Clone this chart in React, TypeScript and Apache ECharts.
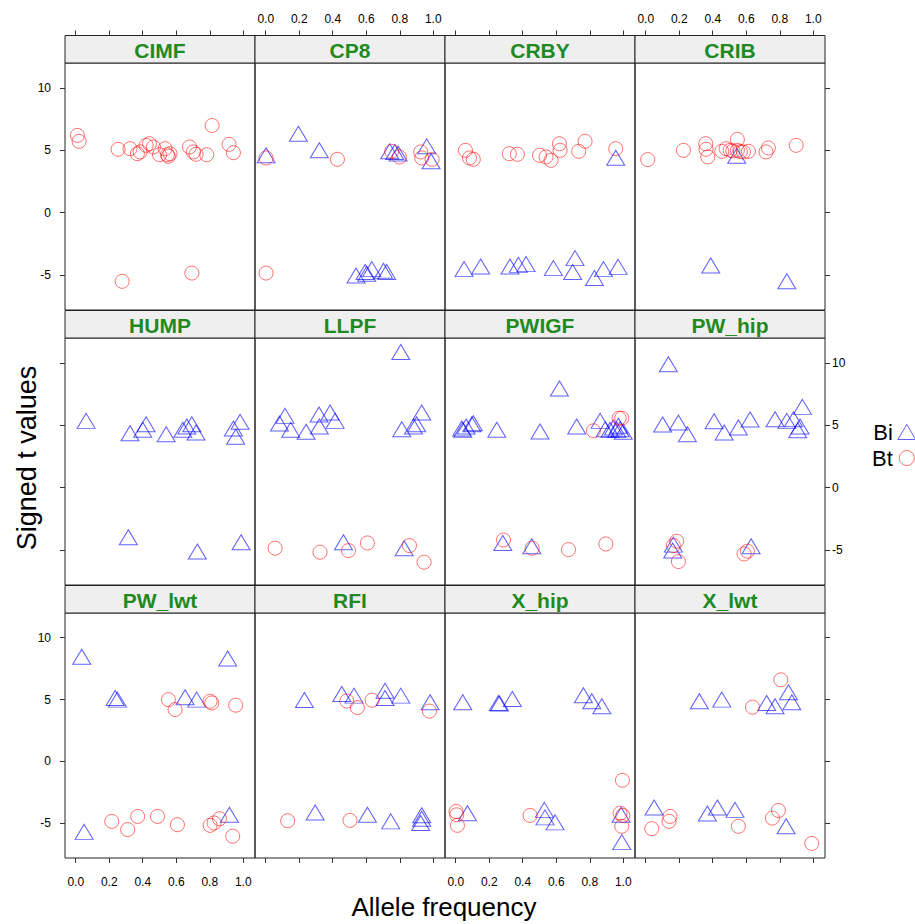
import React, { useEffect, useRef } from 'react';
import * as echarts from 'echarts';

const panelNames = ['CIMF', 'CP8', 'CRBY', 'CRIB', 'HUMP', 'LLPF', 'PWIGF', 'PW_hip', 'PW_lwt', 'RFI', 'X_hip', 'X_lwt'];
const xTicks = [0, 0.2, 0.4, 0.6, 0.8, 1.0];
const yTicks = [-5, 0, 5, 10];
const groups = ['Bi', 'Bt'];

const cimfBi: number[][] = [];
const cimfBt = [[0.01, 6.2], [0.02, 5.72], [0.253, 5.08], [0.324, 5.13], [0.368, 4.73], [0.384, 4.87], [0.42, 5.4], [0.44, 5.53], [0.464, 5.27], [0.5, 4.65], [0.533, 5.13], [0.547, 4.65], [0.563, 4.73], [0.553, 4.52], [0.679, 5.27], [0.702, 4.87], [0.718, 4.68], [0.782, 4.65], [0.814, 6.99], [0.915, 5.48], [0.941, 4.81], [0.277, -5.5], [0.693, -4.84]];

const cp8Bi = [[0.002, 4.6], [0.195, 6.33], [0.32, 5.0], [0.74, 4.92], [0.77, 4.87], [0.79, 4.75], [0.961, 5.32], [0.987, 4.12], [0.539, -5.03], [0.593, -4.76], [0.603, -4.89], [0.633, -4.52], [0.703, -4.65], [0.722, -4.76]];
const cp8Bt = [[0.002, 4.39], [0.428, 4.28], [0.752, 4.92], [0.798, 4.47], [0.925, 4.87], [0.931, 4.39], [0.993, 4.28], [0.002, -4.84]];

const crbyBi = [[0.955, 4.41], [0.05, -4.52], [0.149, -4.31], [0.324, -4.31], [0.374, -4.18], [0.42, -4.12], [0.583, -4.44], [0.712, -3.64], [0.698, -4.76], [0.828, -5.24], [0.882, -4.52], [0.969, -4.34]];
const crbyBt = [[0.058, 5.0], [0.082, 4.39], [0.105, 4.28], [0.32, 4.73], [0.368, 4.68], [0.5, 4.6], [0.539, 4.47], [0.569, 4.2], [0.619, 5.53], [0.623, 5.0], [0.734, 4.92], [0.772, 5.72], [0.955, 5.13]];

const cribBi = [[0.543, 4.57], [0.388, -4.23], [0.842, -5.5]];
const cribBt = [[0.012, 4.26], [0.225, 5.0], [0.358, 5.53], [0.36, 5.08], [0.37, 4.47], [0.454, 4.92], [0.48, 5.13], [0.504, 5.0], [0.52, 4.95], [0.547, 5.88], [0.547, 5.0], [0.565, 4.9], [0.583, 4.87], [0.613, 4.92], [0.718, 4.87], [0.732, 5.19], [0.898, 5.4]];

const humpBi = [[0.062, 5.36], [0.324, 4.37], [0.4, 4.64], [0.42, 5.09], [0.54, 4.29], [0.639, 4.64], [0.663, 4.91], [0.693, 5.09], [0.718, 4.43], [0.941, 4.75], [0.981, 5.28], [0.955, 4.08], [0.314, -3.97], [0.726, -5.12], [0.987, -4.37]];
const humpBt: number[][] = [];

const llpfBi = [[0.806, 10.88], [0.082, 5.15], [0.115, 5.76], [0.149, 4.64], [0.241, 4.48], [0.318, 5.87], [0.32, 4.91], [0.384, 6.03], [0.414, 5.36], [0.812, 4.69], [0.882, 4.91], [0.901, 5.09], [0.931, 6.03], [0.464, -4.37], [0.826, -4.85]];
const llpfBt = [[0.056, -4.85], [0.324, -5.17], [0.494, -5.04], [0.607, -4.43], [0.858, -4.64], [0.945, -5.97]];

const pwigfBi = [[0.619, 7.95], [0.036, 4.75], [0.042, 4.64], [0.062, 4.91], [0.096, 5.09], [0.105, 5.17], [0.245, 4.64], [0.503, 4.51], [0.722, 4.91], [0.862, 5.36], [0.892, 4.69], [0.921, 4.64], [0.941, 4.83], [0.961, 4.64], [0.971, 4.96], [0.981, 4.69], [1.0, 4.48], [0.281, -4.43], [0.454, -4.69]];
const pwigfBt = [[0.822, 4.56], [0.975, 5.57], [0.991, 5.57], [0.285, -4.19], [0.456, -4.85], [0.673, -4.96], [0.896, -4.51]];

const pwHipBi = [[0.135, 9.89], [0.101, 5.07], [0.195, 5.23], [0.249, 4.29], [0.408, 5.33], [0.468, 4.43], [0.553, 4.83], [0.623, 5.47], [0.772, 5.49], [0.842, 5.36], [0.882, 5.49], [0.935, 6.48], [0.921, 4.91], [0.907, 4.61], [0.165, -4.56], [0.161, -5.04], [0.629, -4.69]];
const pwHipBt = [[0.185, -4.29], [0.165, -4.64], [0.195, -5.92], [0.587, -5.31], [0.607, -5.09]];

const pwLwtBi = [[0.036, 8.46], [0.907, 8.32], [0.235, 5.13], [0.249, 5.0], [0.653, 5.19], [0.722, 5.0], [0.917, -4.31], [0.05, -5.69]];
const pwLwtBt = [[0.553, 5.0], [0.593, 4.2], [0.802, 4.87], [0.812, 4.73], [0.955, 4.55], [0.215, -4.84], [0.31, -5.5], [0.37, -4.44], [0.488, -4.44], [0.607, -5.11], [0.802, -5.16], [0.826, -4.97], [0.858, -4.63], [0.937, -6.04]];

const rfiBi = [[0.231, 4.97], [0.454, 5.45], [0.527, 5.32], [0.712, 5.72], [0.712, 5.13], [0.806, 5.32], [0.981, 4.79], [0.295, -4.12], [0.607, -4.31], [0.746, -4.84], [0.931, -4.34], [0.931, -4.63], [0.925, -4.97]];
const rfiBt = [[0.484, 4.89], [0.547, 4.36], [0.635, 4.95], [0.977, 4.07], [0.131, -4.79], [0.503, -4.76]];

const xHipBi = [[0.042, 4.79], [0.255, 4.73], [0.261, 4.68], [0.338, 5.05], [0.762, 5.35], [0.812, 4.87], [0.872, 4.47], [0.07, -4.18], [0.529, -3.91], [0.533, -4.52], [0.593, -4.92], [0.987, -4.31], [0.991, -6.52]];
const xHipBt = [[0.002, -4.04], [0.006, -4.31], [0.01, -5.16], [0.444, -4.36], [0.995, -1.52], [0.981, -4.18], [0.997, -4.36], [0.991, -5.24]];

const xLwtBi = [[0.32, 4.87], [0.454, 5.0], [0.722, 4.73], [0.772, 4.47], [0.852, 5.59], [0.872, 4.79], [0.05, -3.72], [0.368, -4.2], [0.428, -3.72], [0.533, -3.91], [0.838, -5.24]];
const xLwtBt = [[0.806, 6.6], [0.637, 4.39], [0.036, -5.43], [0.139, -4.84], [0.145, -4.44], [0.553, -5.24], [0.756, -4.57], [0.792, -3.96], [0.991, -6.62]];

const biData = [cimfBi, cp8Bi, crbyBi, cribBi, humpBi, llpfBi, pwigfBi, pwHipBi, pwLwtBi, rfiBi, xHipBi, xLwtBi];
const btData = [cimfBt, cp8Bt, crbyBt, cribBt, humpBt, llpfBt, pwigfBt, pwHipBt, pwLwtBt, rfiBt, xHipBt, xLwtBt];

const FONT = '"Liberation Sans", Arial, Helvetica, sans-serif';
const BLUE = 'rgba(0,0,255,0.78)';
const RED = 'rgba(255,0,0,0.7)';

export default function App() {
  const ref = useRef<HTMLDivElement>(null);
  useEffect(() => {
    if (!ref.current) return;
    const chart = echarts.init(ref.current, undefined, { renderer: 'svg' });
    const W = 190;
    const STRIP = 27.5;
    const stripTops = [35.5, 310.5, 585.5];
    const plotH = [247, 247, 245];
    const grids: any[] = [];
    const xAxes: any[] = [];
    const yAxes: any[] = [];
    const series: any[] = [];
    const graphics: any[] = [];
    panelNames.forEach((name, i) => {
      const r = Math.floor(i / 4);
      const c = i % 4;
      const left = 65 + W * c;
      const top = stripTops[r] + STRIP;
      grids.push({ left, top, width: W, height: plotH[r], show: true, borderColor: '#222', borderWidth: 1, backgroundColor: 'transparent' });
      const xLabelShow = (r === 0 && c % 2 === 1) || (r === 2 && c % 2 === 0);
      xAxes.push({
        type: 'value', gridIndex: i, min: -0.064, max: 1.07,
        position: r === 0 ? 'top' : 'bottom',
        offset: r === 0 ? STRIP : 0,
        axisLine: { show: false, onZero: false },
        splitLine: { show: false },
        axisTick: { show: r !== 1, customValues: xTicks, length: 5, lineStyle: { color: '#333' } },
        axisLabel: { show: xLabelShow, customValues: xTicks, formatter: (v: number) => v.toFixed(1), fontSize: 12, color: '#000', margin: r === 0 ? 11 : 18, fontFamily: FONT },
      });
      const yLabelShow = (c === 0 && r !== 1) || (c === 3 && r === 1);
      yAxes.push({
        type: 'value', gridIndex: i, min: -7.8, max: 12,
        position: c === 3 ? 'right' : 'left',
        axisLine: { show: false, onZero: false },
        splitLine: { show: false },
        axisTick: { show: c === 0 || c === 3, customValues: yTicks, length: 5, lineStyle: { color: '#333' } },
        axisLabel: { show: yLabelShow, customValues: yTicks, fontSize: 12, color: '#000', margin: c === 3 ? 7 : 14, fontFamily: FONT },
      });
      series.push({
        type: 'scatter', name: 'Bi', xAxisIndex: i, yAxisIndex: i, data: biData[i],
        symbol: 'triangle', symbolSize: [18, 15],
        itemStyle: { color: 'rgba(0,0,0,0)', borderColor: BLUE, borderWidth: 1 },
        emphasis: { disabled: true },
      });
      series.push({
        type: 'scatter', name: 'Bt', xAxisIndex: i, yAxisIndex: i, data: btData[i],
        symbol: 'circle', symbolSize: 14,
        itemStyle: { color: 'rgba(0,0,0,0)', borderColor: RED, borderWidth: 1 },
        emphasis: { disabled: true },
      });
      graphics.push({
        type: 'rect', shape: { x: left, y: stripTops[r], width: W, height: STRIP },
        style: { fill: '#efefef', stroke: '#222', lineWidth: 1 }, z: 10,
      });
      graphics.push({
        type: 'text', x: left + W / 2, y: stripTops[r] + STRIP / 2 + 1, z: 11,
        style: { text: name, fill: '#1f8a1f', font: `bold 21px ${FONT}`, align: 'center', verticalAlign: 'middle', textAlign: 'center', textVerticalAlign: 'middle' },
      });
    });
    graphics.push({
      type: 'text', x: 27, y: 458, rotation: Math.PI / 2,
      style: { text: 'Signed t values', fill: '#000', font: `27px ${FONT}`, align: 'center', verticalAlign: 'middle', textAlign: 'center', textVerticalAlign: 'middle' },
    });
    graphics.push({
      type: 'text', x: 444, y: 907,
      style: { text: 'Allele frequency', fill: '#000', font: `26px ${FONT}`, align: 'center', verticalAlign: 'middle', textAlign: 'center', textVerticalAlign: 'middle' },
    });
    chart.setOption({
      animation: false,
      textStyle: { fontFamily: FONT },
      grid: grids,
      xAxis: xAxes,
      yAxis: yAxes,
      series,
      graphic: graphics,
      legend: {
        orient: 'vertical', left: 867, top: 416, align: 'right', selectedMode: false,
        itemWidth: 18, itemHeight: 15, itemGap: 4,
        textStyle: { fontSize: 22, color: '#000', fontFamily: FONT, lineHeight: 22 },
        data: [
          { name: 'Bi', icon: 'triangle', itemStyle: { color: 'rgba(0,0,0,0)', borderColor: BLUE, borderWidth: 1 } },
          { name: 'Bt', icon: 'circle', itemStyle: { color: 'rgba(0,0,0,0)', borderColor: RED, borderWidth: 1 } },
        ],
      },
    });
    return () => chart.dispose();
  }, []);
  return <div ref={ref} style={{ position: 'fixed', left: 0, top: 0, width: 915, height: 924, background: '#fff' }} />;
}
